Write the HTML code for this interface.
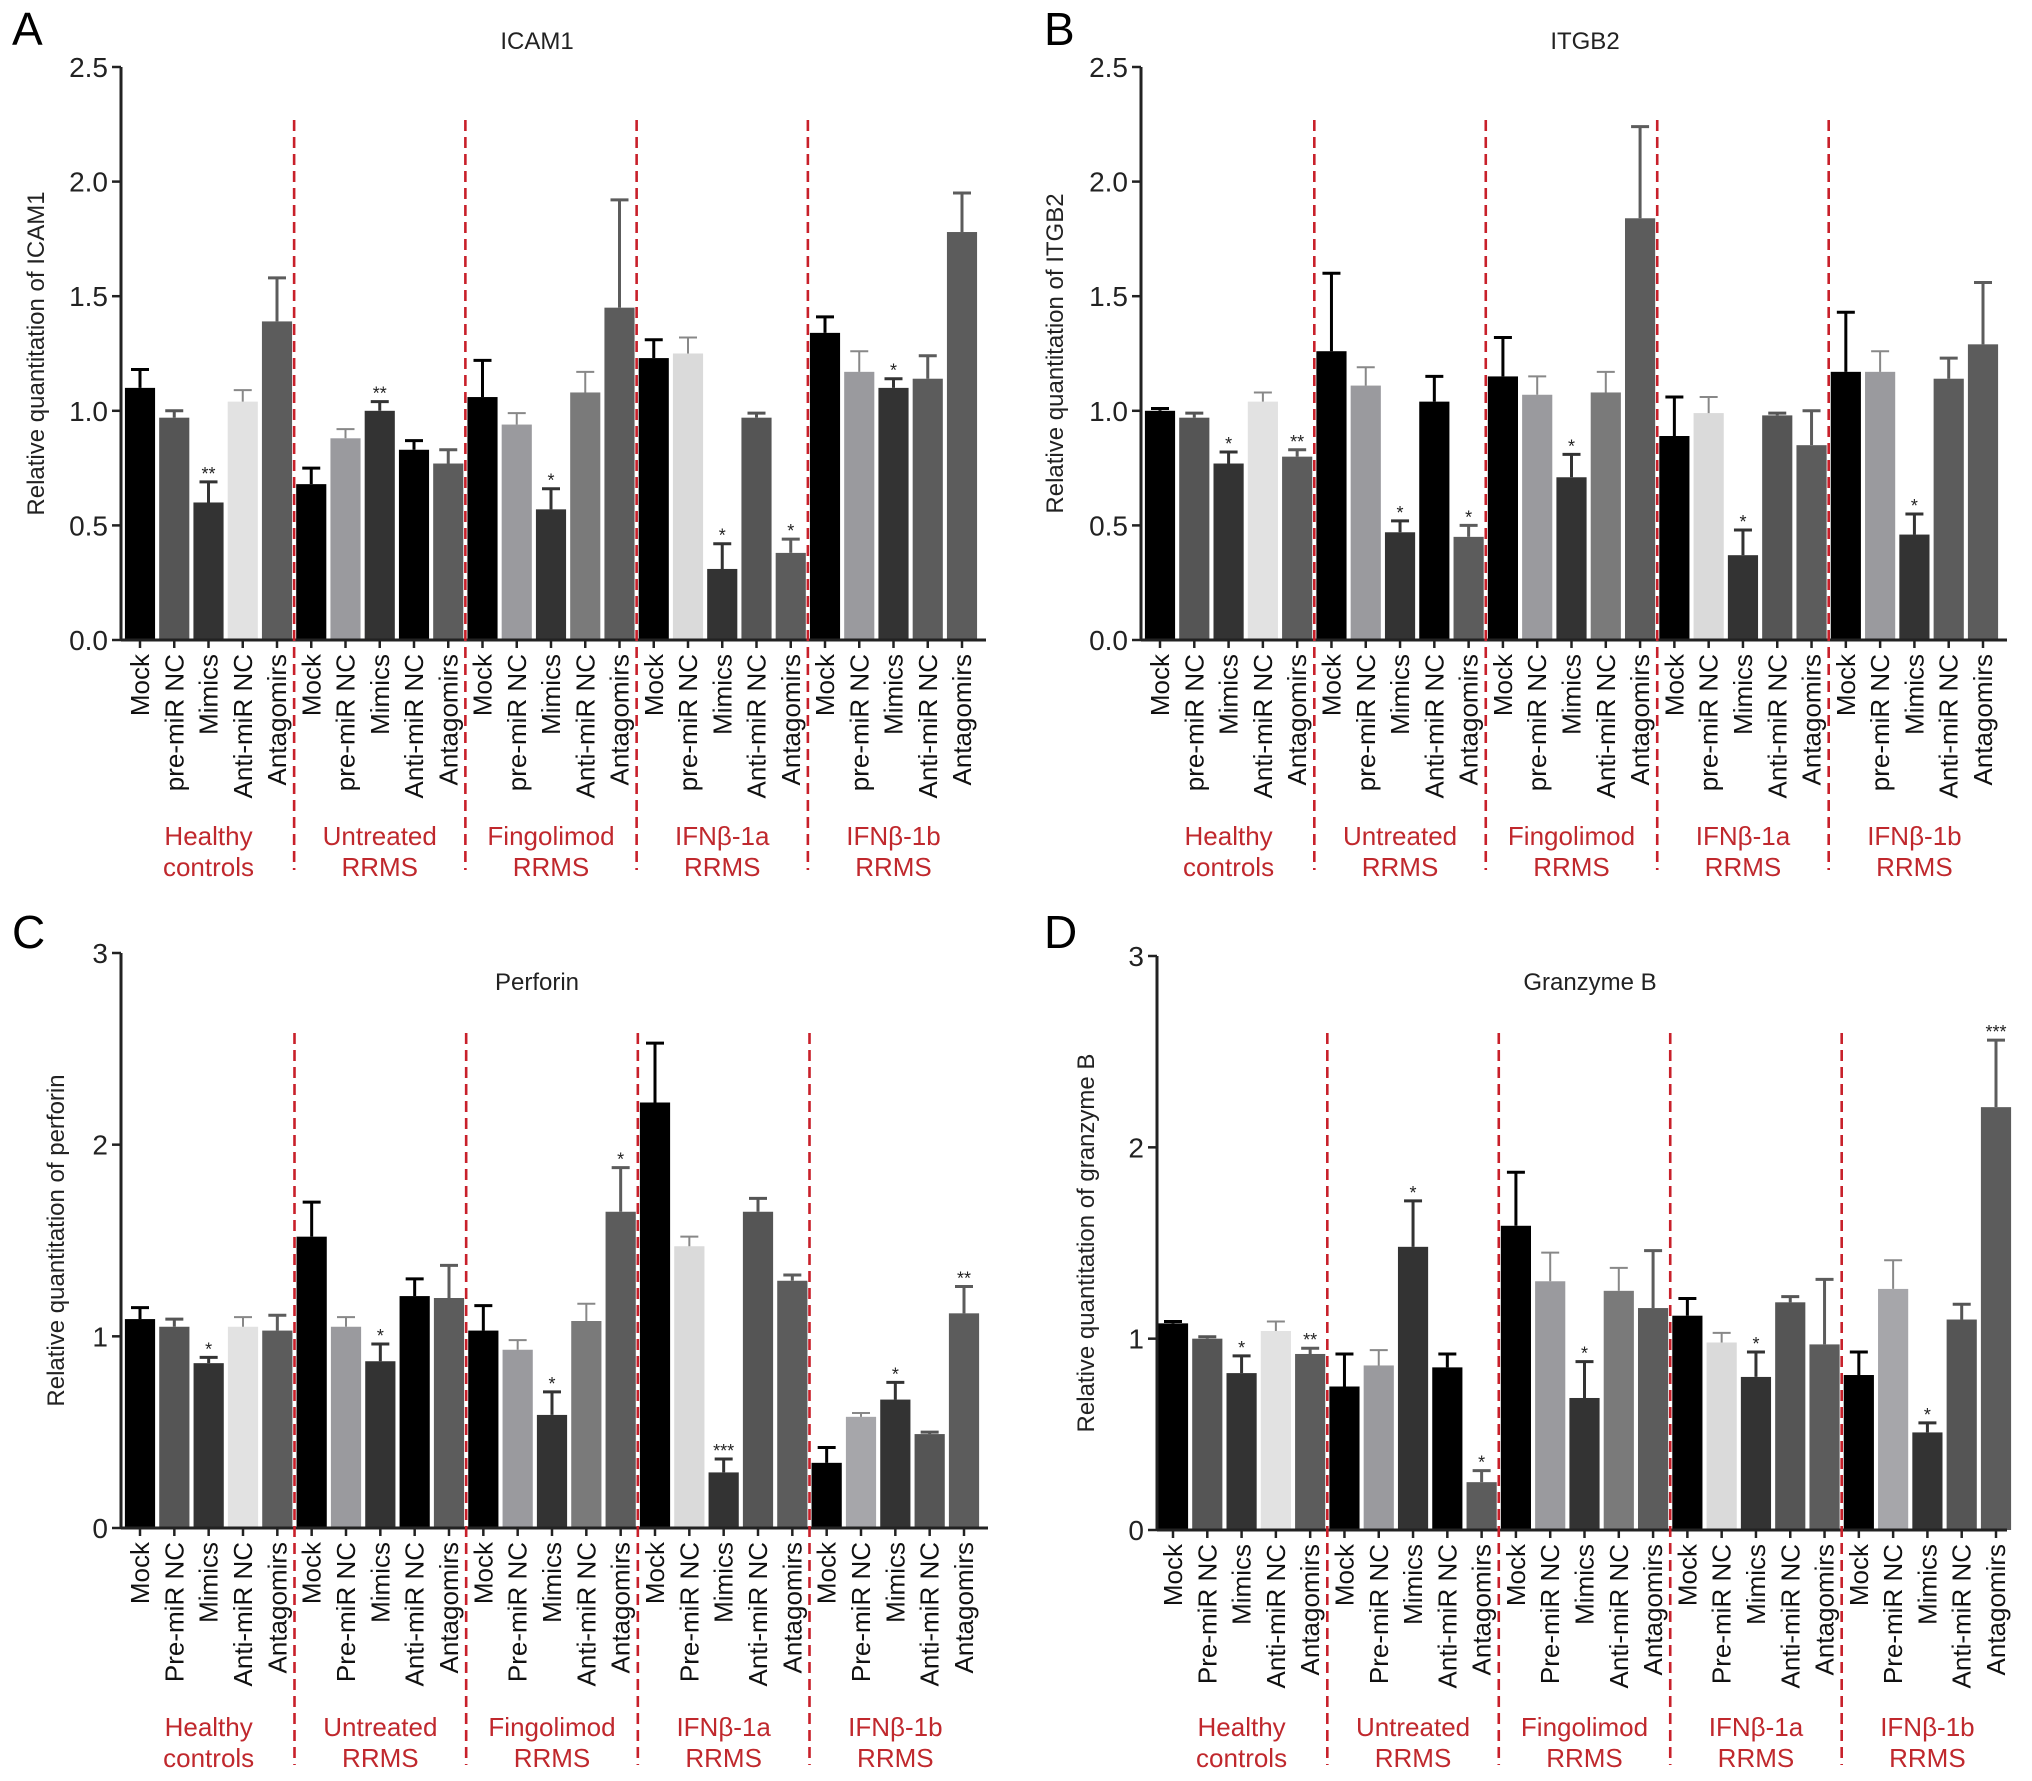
<!DOCTYPE html>
<html><head><meta charset="utf-8"><style>
html,body{margin:0;padding:0;background:#fff;}
svg{display:block;font-family:"Liberation Sans",Arial,sans-serif;}
</style></head><body>
<svg id="fig" width="2032" height="1781" viewBox="0 0 2032 1781" xmlns="http://www.w3.org/2000/svg"></svg>
<script>
const categoriesAB = ["Mock","pre-miR NC","Mimics","Anti-miR NC","Antagomirs"];
const categoriesCD = ["Mock","Pre-miR NC","Mimics","Anti-miR NC","Antagomirs"];
const groups = [["Healthy","controls"],["Untreated","RRMS"],["Fingolimod","RRMS"],["IFNβ-1a","RRMS"],["IFNβ-1b","RRMS"]];

const icamValues = [1.10,0.97,0.60,1.04,1.39, 0.68,0.88,1.00,0.83,0.77, 1.06,0.94,0.57,1.08,1.45, 1.23,1.25,0.31,0.97,0.38, 1.34,1.17,1.10,1.14,1.78];
const icamErrors = [1.18,1.00,0.69,1.09,1.58, 0.75,0.92,1.04,0.87,0.83, 1.22,0.99,0.66,1.17,1.92, 1.31,1.32,0.42,0.99,0.44, 1.41,1.26,1.14,1.24,1.95];
const icamStars  = ["","","**","","", "","","**","","", "","","*","","", "","","*","","*", "","","*","",""];
const icamTicks  = ["0.0","0.5","1.0","1.5","2.0","2.5"];

const itgbValues = [1.00,0.97,0.77,1.04,0.80, 1.26,1.11,0.47,1.04,0.45, 1.15,1.07,0.71,1.08,1.84, 0.89,0.99,0.37,0.98,0.85, 1.17,1.17,0.46,1.14,1.29];
const itgbErrors = [1.01,0.99,0.82,1.08,0.83, 1.60,1.19,0.52,1.15,0.50, 1.32,1.15,0.81,1.17,2.24, 1.06,1.06,0.48,0.99,1.00, 1.43,1.26,0.55,1.23,1.56];
const itgbStars  = ["","","*","","**", "","","*","","*", "","","*","","", "","","*","","", "","","*","",""];
const itgbTicks  = ["0.0","0.5","1.0","1.5","2.0","2.5"];

const perfValues = [1.09,1.05,0.86,1.05,1.03, 1.52,1.05,0.87,1.21,1.20, 1.03,0.93,0.59,1.08,1.65, 2.22,1.47,0.29,1.65,1.29, 0.34,0.58,0.67,0.49,1.12];
const perfErrors = [1.15,1.09,0.89,1.10,1.11, 1.70,1.10,0.96,1.30,1.37, 1.16,0.98,0.71,1.17,1.88, 2.53,1.52,0.36,1.72,1.32, 0.42,0.60,0.76,0.50,1.26];
const perfStars  = ["","","*","","", "","","*","","", "","","*","","*", "","","***","","", "","","*","","**"];
const perfTicks  = ["0","1","2","3"];

const gzmValues = [1.08,1.00,0.82,1.04,0.92, 0.75,0.86,1.48,0.85,0.25, 1.59,1.30,0.69,1.25,1.16, 1.12,0.98,0.80,1.19,0.97, 0.81,1.26,0.51,1.10,2.21];
const gzmErrors = [1.09,1.01,0.91,1.09,0.95, 0.92,0.94,1.72,0.92,0.31, 1.87,1.45,0.88,1.37,1.46, 1.21,1.03,0.93,1.22,1.31, 0.93,1.41,0.56,1.18,2.56];
const gzmStars  = ["","","*","","**", "","","*","","*", "","","*","","", "","","*","","", "","","*","","***"];
const gzmTicks  = ["0","1","2","3"];

const colA = ["#000","#555","#333","#e2e2e2","#5c5c5c", "#000","#9a9a9e","#333","#000","#5c5c5c", "#000","#9a9a9e","#333","#7a7a7a","#5c5c5c", "#000","#dadada","#333","#555","#5c5c5c", "#000","#9a9a9e","#333","#5c5c5c","#5c5c5c"];
const colC = ["#000","#555","#333","#e2e2e2","#5c5c5c", "#000","#9a9a9e","#333","#000","#5c5c5c", "#000","#9a9a9e","#333","#7a7a7a","#5c5c5c", "#000","#dadada","#333","#555","#5c5c5c", "#000","#a6a6aa","#333","#555","#5c5c5c"];

const NS="http://www.w3.org/2000/svg";
const svg=document.getElementById('fig');
function mk(tag,attrs,parent){const e=document.createElementNS(NS,tag);for(const k in attrs)e.setAttribute(k,attrs[k]);(parent||svg).appendChild(e);return e;}

function panel(p){
  const g=mk('g',{});
  
  
  const ymax=p.ymax;
  const yS=v=>p.y0-(v/ymax)*(p.y0-p.yTop);
  const step=(p.xLast-p.xFirst)/24;
  const xS=i=>p.xFirst+i*step;
  const bw=step*0.88;
  const L=mk('text',{x:p.lx,y:p.ly,'font-size':46,fill:'#000'},g);L.textContent=p.letter;
  
  
  const T=mk('text',{x:p.tx,y:p.ty,'font-size':24,'text-anchor':'middle',fill:'#222'},g);T.textContent=p.title;
  
  
  const YT=mk('text',{x:0,y:0,'font-size':24,'text-anchor':'middle',fill:'#222',transform:`translate(${p.ytx},${(p.y0+p.yTop)/2}) rotate(-90)`},g);YT.textContent=p.ytitle;
  
  
  p.values.forEach((v,i)=>{
    const cx=xS(i);
    const r=mk('rect',{x:cx-bw/2,y:yS(v),width:bw,height:p.y0-yS(v),fill:p.colors[i]},g);
    
    
    const light=['#e2e2e2','#dadada','#9a9a9e','#a6a6aa','#7a7a7a'].includes(p.colors[i]);
    const ec=light?'#888':p.colors[i];
    const ey=yS(p.errors[i]);
    const el=mk('path',{d:`M${cx},${yS(v)}V${ey}M${cx-9},${ey}H${cx+9}`,stroke:ec,'stroke-width':light?2:3,fill:'none'},g);
    
    
    if(p.stars[i]){
      const s=mk('text',{x:cx,y:ey-2,'font-size':18,'text-anchor':'middle',fill:'#222'},g);s.textContent=p.stars[i];
      
      
    }
    mk('line',{x1:cx,x2:cx,y1:p.y0,y2:p.y0+8,stroke:'#222','stroke-width':2.5},g);
    const lb=mk('text',{x:0,y:0,'font-size':26,'text-anchor':'end',fill:'#111',transform:`translate(${cx+9},${p.y0+14}) rotate(-90)`},g);
    lb.textContent=p.cats[i%5];
    
    
  });
  mk('line',{x1:p.x0,x2:p.x0,y1:p.yTop,y2:p.y0,stroke:'#222','stroke-width':3},g);
  mk('line',{x1:p.x0,x2:p.xEnd,y1:p.y0,y2:p.y0,stroke:'#222','stroke-width':3},g);
  p.ticks.forEach(t=>{
    const y=yS(parseFloat(t));
    mk('line',{x1:p.x0-9,x2:p.x0,y1:y,y2:y,stroke:'#222','stroke-width':2.5},g);
    const tt=mk('text',{x:p.x0-13,y:y+10,'font-size':28,'text-anchor':'end',fill:'#222'},g);tt.textContent=t;
    
    
  });
  for(let k=1;k<5;k++){
    const x=xS(5*k-0.5);
    const d=mk('line',{x1:x,x2:x,y1:p.dTop,y2:p.dBot,stroke:'#c8202a','stroke-width':2.6,'stroke-dasharray':'11,6'},g);
    
    
  }
  groups.forEach((gr,k)=>{
    const cx=xS(5*k+2);
    gr.forEach((line,j)=>{
      const t=mk('text',{x:cx,y:p.gy+j*31,'font-size':26,'text-anchor':'middle',fill:'#c0282d'},g);t.textContent=line;
      
      
    });
  });
}

panel({letter:'A',lx:12,ly:45,title:'ICAM1',tx:537,ty:49,ytitle:'Relative quantitation of ICAM1',ytx:44,
  x0:121,xEnd:986,yTop:67,y0:640,xFirst:140,xLast:962,ymax:2.5,dTop:120,dBot:870,gy:845,
  values:icamValues,errors:icamErrors,stars:icamStars,ticks:icamTicks,cats:categoriesAB,colors:colA});
panel({letter:'B',lx:1044,ly:45,title:'ITGB2',tx:1585,ty:49,ytitle:'Relative quantitation of ITGB2',ytx:1063,
  x0:1141,xEnd:2007,yTop:67,y0:640,xFirst:1160,xLast:1983,ymax:2.5,dTop:120,dBot:870,gy:845,
  values:itgbValues,errors:itgbErrors,stars:itgbStars,ticks:itgbTicks,cats:categoriesAB,colors:colA});
panel({letter:'C',lx:12,ly:948,title:'Perforin',tx:537,ty:990,ytitle:'Relative quantitation of perforin',ytx:64,
  x0:121,xEnd:988,yTop:953,y0:1528,xFirst:140,xLast:964,ymax:3,dTop:1033,dBot:1765,gy:1736,
  values:perfValues,errors:perfErrors,stars:perfStars,ticks:perfTicks,cats:categoriesCD,colors:colC});
panel({letter:'D',lx:1044,ly:948,title:'Granzyme B',tx:1590,ty:990,ytitle:'Relative quantitation of granzyme B',ytx:1094,
  x0:1157,xEnd:2007,yTop:956,y0:1530,xFirst:1173,xLast:1996,ymax:3,dTop:1033,dBot:1765,gy:1736,
  values:gzmValues,errors:gzmErrors,stars:gzmStars,ticks:gzmTicks,cats:categoriesCD,colors:colC});
</script>
</body></html>
